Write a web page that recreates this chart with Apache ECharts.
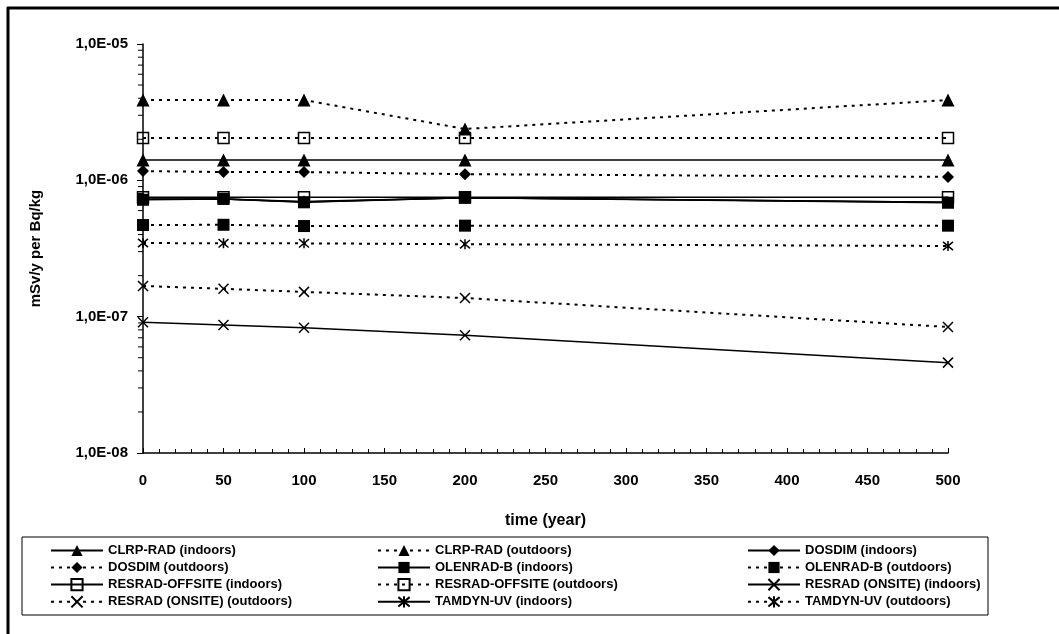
<!DOCTYPE html>
<html>
<head>
<meta charset="utf-8">
<script src="https://cdn.jsdelivr.net/npm/echarts@6/dist/echarts.min.js"></script>
<style>
html, body { margin: 0; padding: 0; background: #fff; }
#chart { width: 1059px; height: 634px; }
</style>
</head>
<body>
<div id="chart"></div>
<script>
// time points (year)
var years = [0, 50, 100, 200, 500];

// dose per unit concentration, mSv/y per Bq/kg
var clrpIn = [1.41e-6, 1.41e-6, 1.41e-6, 1.41e-6, 1.41e-6];
var clrpOut = [3.88e-6, 3.88e-6, 3.88e-6, 2.38e-6, 3.88e-6];
var dosdimIn = [7.3e-7, 7.3e-7, 7.0e-7, 7.45e-7, 6.9e-7];
var dosdimOut = [1.17e-6, 1.15e-6, 1.15e-6, 1.11e-6, 1.06e-6];
var olenIn = [7.2e-7, 7.3e-7, 6.9e-7, 7.45e-7, 6.85e-7];
var olenOut = [4.7e-7, 4.72e-7, 4.62e-7, 4.65e-7, 4.65e-7];
var offsiteIn = [7.5e-7, 7.5e-7, 7.5e-7, 7.5e-7, 7.5e-7];
var offsiteOut = [2.04e-6, 2.04e-6, 2.04e-6, 2.04e-6, 2.04e-6];
var onsiteIn = [9.1e-8, 8.7e-8, 8.3e-8, 7.3e-8, 4.6e-8];
var onsiteOut = [1.68e-7, 1.6e-7, 1.52e-7, 1.37e-7, 8.4e-8];
var tamdynIn = [7.25e-7, 7.3e-7, 6.95e-7, 7.45e-7, 6.9e-7];
var tamdynOut = [3.47e-7, 3.45e-7, 3.45e-7, 3.4e-7, 3.3e-7];

// log minor tick positions on the y axis
var minorTicks = [];
[1e-8, 1e-7, 1e-6].forEach(function(d) {
	for (var k = 2; k <= 9; k++) minorTicks.push(d * k);
});

var names = [
	'CLRP-RAD (indoors)', 'CLRP-RAD (outdoors)', 'DOSDIM (indoors)',
	'DOSDIM (outdoors)', 'OLENRAD-B (indoors)', 'OLENRAD-B (outdoors)',
	'RESRAD-OFFSITE (indoors)', 'RESRAD-OFFSITE (outdoors)', 'RESRAD (ONSITE) (indoors)',
	'RESRAD (ONSITE) (outdoors)', 'TAMDYN-UV (indoors)', 'TAMDYN-UV (outdoors)'
];
var values = [clrpIn, clrpOut, dosdimIn, dosdimOut, olenIn, olenOut,
	offsiteIn, offsiteOut, onsiteIn, onsiteOut, tamdynIn, tamdynOut];

var CROSS = 'path://M0,0L10,10M10,0L0,10';
var STAR = 'path://M0,0L10,10M10,0L0,10M5,-1L5,11';
var marks = [
	{ symbol: 'triangle', size: 13 },
	{ symbol: 'triangle', size: 13 },
	{ symbol: 'diamond', size: 12 },
	{ symbol: 'diamond', size: 12 },
	{ symbol: 'rect', size: 12 },
	{ symbol: 'rect', size: 12 },
	{ symbol: 'rect', size: 11, hollow: true },
	{ symbol: 'rect', size: 11, hollow: true },
	{ symbol: CROSS, size: 10 },
	{ symbol: CROSS, size: 10 },
	{ symbol: STAR, size: 10 },
	{ symbol: STAR, size: 10 }
];
// series hidden under the OLENRAD-B squares
var underneath = { 2: true, 10: true };

function pairs(arr)
{
	var out = [];
	for (var i = 0; i < years.length; i++) out.push([years[i], arr[i]]);
	return out;
}

function fmtSci(v)
{
	var e = Math.round(Math.log(v) / Math.LN10);
	var s = e < 0 ? '-' : '+';
	var a = Math.abs(e);
	return '1,0E' + s + (a < 10 ? '0' + a : a);
}

var series = [];
for (var i = 0; i < names.length; i++) {
	var m = marks[i];
	var dotted = i % 2 == 1;
	var path = m.symbol.indexOf('path://') == 0;
	series.push({
		name: names[i],
		type: 'line',
		z: underneath[i] ? 1 : 2,
		data: pairs(values[i]),
		symbol: m.symbol,
		symbolSize: m.size,
		showAllSymbol: true,
		color: '#000',
		itemStyle: {
			color: m.hollow ? 'rgba(0,0,0,0)' : '#000',
			borderColor: '#000',
			borderWidth: (path || m.hollow) ? 1.5 : 0
		},
		lineStyle: {
			color: '#000',
			width: dotted ? 2 : 1.5,
			type: dotted ? [3, 5] : 'solid'
		},
		emphasis: { disabled: true },
		animation: false
	});
}

// log minor ticks drawn through the axis scale
series.push({
	type: 'custom',
	silent: true,
	clip: false,
	animation: false,
	data: minorTicks.map(function(v) { return [0, v]; }),
	renderItem: function(params, api) {
		var p = api.coord([api.value(0), api.value(1)]);
		return {
			type: 'line',
			shape: { x1: p[0] - 5, y1: p[1], x2: p[0], y2: p[1] },
			style: { stroke: '#000', lineWidth: 1 }
		};
	}
});

var legendFont = { fontFamily: 'Liberation Sans, Arial, sans-serif', fontWeight: 'bold', fontSize: 13, color: '#000' };
var legendCols = [45, 372, 742];
var legends = legendCols.map(function(x, c) {
	return {
		orient: 'vertical',
		left: x,
		top: 539,
		itemWidth: 52,
		itemHeight: 14,
		itemGap: 4,
		selectedMode: false,
		textStyle: legendFont,
		data: names.filter(function(n, k) { return k % 3 == c; })
	};
});

var axisFont = { fontFamily: 'Liberation Sans, Arial, sans-serif', fontWeight: 'bold', fontSize: 15, color: '#000' };

var option = {
	backgroundColor: '#fff',
	animation: false,
	grid: { left: 143, right: 111, top: 44, bottom: 181 },
	xAxis: {
		type: 'value',
		min: 0,
		max: 500,
		interval: 50,
		name: 'time (year)',
		nameLocation: 'middle',
		nameGap: 60,
		nameTextStyle: { fontFamily: axisFont.fontFamily, fontWeight: 'bold', fontSize: 16, color: '#000' },
		axisLine: { lineStyle: { color: '#000', width: 1.5 } },
		axisTick: { inside: true, length: 5, lineStyle: { color: '#000' } },
		minorTick: { show: true, splitNumber: 5, length: 4, lineStyle: { color: '#000' } },
		axisLabel: Object.assign({ margin: 20 }, axisFont),
		splitLine: { show: false }
	},
	yAxis: {
		type: 'log',
		logBase: 10,
		min: 1e-8,
		max: 1e-5,
		name: 'mSv/y per Bq/kg',
		nameLocation: 'middle',
		nameGap: 100,
		nameTextStyle: { fontFamily: axisFont.fontFamily, fontWeight: 'bold', fontSize: 15, color: '#000' },
		axisLine: { show: true, lineStyle: { color: '#000', width: 1.5 } },
		axisTick: { show: true, length: 6, lineStyle: { color: '#000' } },
		axisLabel: Object.assign({ margin: 15, formatter: fmtSci }, axisFont),
		splitLine: { show: false }
	},
	legend: legends,
	graphic: [
		{ type: 'line', shape: { x1: 7, y1: 8, x2: 1059, y2: 8 }, style: { stroke: '#000', lineWidth: 3 } },
		{ type: 'line', shape: { x1: 8, y1: 7, x2: 8, y2: 634 }, style: { stroke: '#000', lineWidth: 3 } },
		{ type: 'rect', shape: { x: 22, y: 537, width: 966, height: 78 }, style: { fill: 'none', stroke: '#000', lineWidth: 1 } }
	],
	series: series
};

var chart = echarts.init(document.getElementById('chart'), null, { renderer: 'canvas' });
chart.setOption(option);
</script>
</body>
</html>
